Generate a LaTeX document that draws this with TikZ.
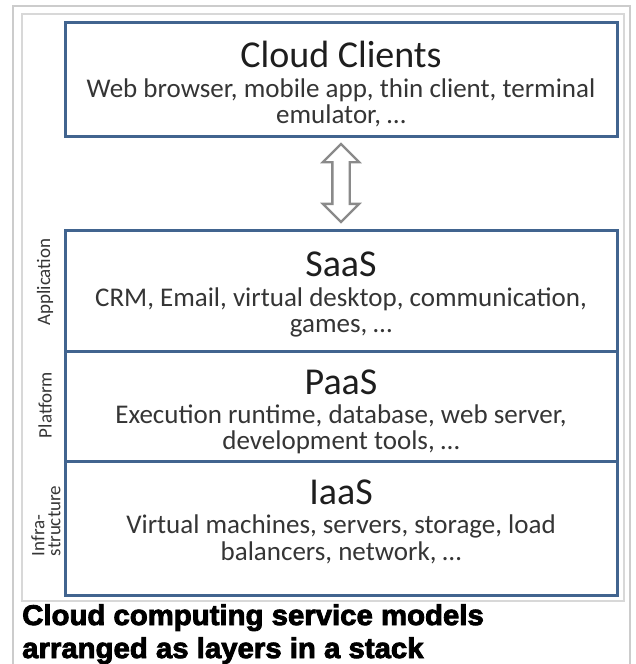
\documentclass[tikz,border=0pt]{standalone}
\usepackage{fontspec}
\setmainfont{Carlito}
\newfontfamily\capfont[BoldFeatures={FakeBold=3,FakeStretch=1.03}]{Liberation Sans}
\usetikzlibrary{shapes.arrows}
\definecolor{boxblue}{HTML}{41648F}
\definecolor{frame}{HTML}{CCCCCC}
\definecolor{frameinner}{HTML}{D8D8D8}
\definecolor{arrowgray}{HTML}{8A8A8A}
\definecolor{titlecol}{HTML}{1E1E1E}
\definecolor{subcol}{HTML}{353535}
\tikzset{
  layerbox/.style={draw=boxblue, line width=3pt, fill=white, inner sep=0pt},
  titletext/.style={font=\fontsize{38}{40}\selectfont, text=titlecol, anchor=base, inner sep=0pt},
  subtext/.style={font=\fontsize{27}{28}\selectfont, text=subcol, anchor=base, inner sep=0pt},
  sidetext/.style={font=\fontsize{19}{16}\selectfont, text=subcol, rotate=90, align=center, inner sep=0pt},
  captext/.style={font=\capfont\bfseries\fontsize{28.5}{36}\selectfont, anchor=base west, inner sep=0pt, text=black},
}
\begin{document}
\begin{tikzpicture}[x=1pt,y=-1pt]
\useasboundingbox (0,0) rectangle (636,664);
% frames
\draw[frame, line width=1.5pt] (13,680) -- (13,6) -- (630,6) -- (630,680);
\draw[frameinner, line width=1.2pt] (22,14) rectangle (624,601);
% top box
\node[layerbox, minimum width=552pt, minimum height=114pt] (cc) at (341,79) {};
\node[titletext] (cct) at (341,67) {Cloud Clients};
\node[subtext] (ccs1) at (341,97) {Web browser, mobile app, thin client, terminal};
\node[subtext] (ccs2) at (341,123) {emulator, \dots};
% stack
\node[layerbox, minimum width=552pt, minimum height=121pt] (saas) at (341,290.5) {};
\node[layerbox, minimum width=552pt, minimum height=110pt] (paas) at (341,406) {};
\node[layerbox, minimum width=552pt, minimum height=134pt] (iaas) at (341,528) {};
\node[titletext] (saast) at (341,276) {SaaS};
\node[subtext] (saass1) at (341,306) {CRM, Email, virtual desktop, communication,};
\node[subtext] (saass2) at (341,332) {games, \dots};
\node[titletext] (paast) at (341,394) {PaaS};
\node[subtext] (paass1) at (341,423) {Execution runtime, database, web server,};
\node[subtext] (paass2) at (341,449) {development tools, \dots};
\node[titletext] (iaast) at (341,504) {IaaS};
\node[subtext] (iaass1) at (341,533) {Virtual machines, servers, storage, load};
\node[subtext] (iaass2) at (341,560) {balancers, network, \dots};
% double arrow
\node[double arrow, draw=arrowgray, fill=white, line width=2.3pt, rotate=90,
      minimum height=78pt, minimum width=34pt, inner xsep=0pt, inner ysep=7.5pt,
      double arrow head extend=9.5pt] (arr) at (341,183) {};
% side labels
\node[sidetext] (app) at (45,282) {Application};
\node[sidetext] (plat) at (45,405) {Platform};
\node[sidetext, align=left] (infra) at (46,521) {Infra-\\structure};
% caption
\node[captext] (cap1) at (22,625) {Cloud computing service models};
\node[captext] (cap2) at (22,658) {arranged as layers in a stack};
\end{tikzpicture}
\end{document}
